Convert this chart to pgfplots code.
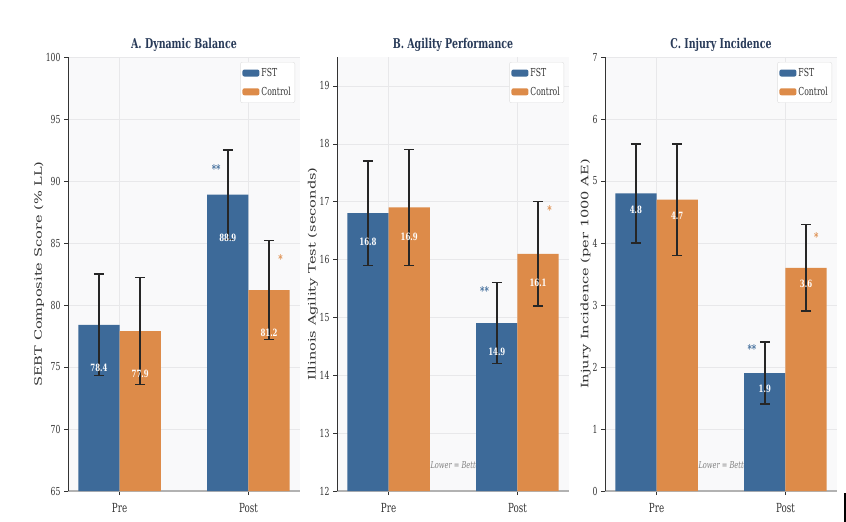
\documentclass[border=0pt]{standalone}
\usepackage{fontspec}
\setmainfont[FakeStretch=0.7]{DejaVu Serif}
\newfontfamily\vfont[FakeStretch=1.43]{DejaVu Serif}
\newfontfamily\arrowfont[FakeStretch=0.7]{DejaVu Sans}
\usepackage{pgfplots}
\pgfplotsset{compat=1.18}

\definecolor{fst}{RGB}{61,106,153}
\definecolor{ctl}{RGB}{221,139,73}
\definecolor{titlecol}{RGB}{40,58,88}
\definecolor{bgc}{RGB}{249,249,250}
\definecolor{gridc}{RGB}{232,232,234}
\definecolor{labc}{RGB}{51,51,51}

\tikzset{
  sig/.style={font=\bfseries\fontsize{12}{12}\selectfont, text=#1},
  note/.style={font=\fontsize{9.5}{11}\selectfont, text=gray},
}

\pgfplotsset{
  /pgf/number format/assume math mode=true,
  panel/.style={
    set layers,
    scale only axis, width=232pt, height=434pt,
    anchor=south west,
    xmin=-0.4, xmax=1.4,
    xtick={0,1}, xticklabels={Pre,Post},
    axis x line*=bottom, axis y line*=left,
    axis background/.style={fill=bgc},
    grid=major, major grid style={gridc, line width=0.6pt},
    tick align=outside, major tick length=4pt,
    tick style={labc, line width=0.6pt},
    x axis line style={gray!60, line width=1.8pt},
    y axis line style={labc, line width=0.8pt},
    xticklabel style={font=\fontsize{12.5}{14}\selectfont, text=labc, yshift=-5pt},
    yticklabel style={font=\fontsize{11}{13}\selectfont, text=labc},
    ylabel style={font=\vfont\fontsize{10.2}{12}\selectfont, text=labc},
    ylabel shift=-5pt,
    title style={font=\bfseries\fontsize{13.5}{16}\selectfont, text=titlecol,
      at={(0.5,1)}, anchor=center, yshift=6pt},
    legend style={at={(1,1)}, anchor=north east, xshift=-5pt, yshift=-5pt,
      draw=gray!25, fill=white, rounded corners=2pt,
      font=\fontsize{11}{12}\selectfont, text=labc,
      row sep=5pt, inner xsep=2pt, inner ysep=4pt},
    legend cell align=left,
  },
  bars/.style 2 args={
    ybar, bar width=0.32, bar shift=0pt, fill=#1, draw=none,
    legend image code/.code={\fill[#1] (0pt,-3.5pt) rectangle (17pt,3.5pt);},
    nodes near coords={\pgfmathprintnumber[fixed,fixed zerofill,precision=1]{\pgfplotspointmeta}},
    every node near coord/.append style={anchor=center, yshift=#2, text=white,
      font=\bfseries\fontsize{10}{12}\selectfont},
    error bars/y dir=both, error bars/y explicit,
    error bars/error bar style={line width=1.5pt, black!85},
    error bars/error mark options={rotate=90, mark size=5pt, line width=1.5pt, black!85},
  },
}

\newcommand{\lowernote}{{\arrowfont ↓}\ \textit{Lower = Better}}

\begin{document}
\begin{tikzpicture}

% A. Dynamic Balance
\begin{axis}[panel, at={(68pt,-491pt)},
  ymin=65, ymax=100, ytick={65,70,...,100},
  title={A. Dynamic Balance},
  ylabel={SEBT Composite Score (\% LL)}]
\addplot[bars={fst}{-43pt}] coordinates {(-0.16,78.4) +- (0,4.1) (0.84,88.9) +- (0,3.6)};
\addlegendentry{FST}
\addplot[bars={ctl}{-43pt}] coordinates {(0.16,77.9) +- (0,4.3) (1.16,81.2) +- (0,4.0)};
\addlegendentry{Control}
\node[sig=fst] at (axis cs:0.75,91.0) {**};
\node[sig=ctl] at (axis cs:1.25,83.7) {*};
\end{axis}

% B. Agility Performance
\begin{axis}[panel, at={(337pt,-491pt)},
  ymin=12, ymax=19.5, ytick={12,...,19},
  title={B. Agility Performance},
  ylabel={Illinois Agility Test (seconds)}]
\begin{pgfonlayer}{pre main}
\node[note] at (rel axis cs:0.5,0.06) {\lowernote};
\end{pgfonlayer}
\addplot[bars={fst}{-29pt}] coordinates {(-0.16,16.8) +- (0,0.9) (0.84,14.9) +- (0,0.7)};
\addlegendentry{FST}
\addplot[bars={ctl}{-29pt}] coordinates {(0.16,16.9) +- (0,1.0) (1.16,16.1) +- (0,0.9)};
\addlegendentry{Control}
\node[sig=fst] at (axis cs:0.745,15.45) {**};
\node[sig=ctl] at (axis cs:1.25,16.86) {*};
\end{axis}

% C. Injury Incidence
\begin{axis}[panel, at={(605pt,-491pt)},
  ymin=0, ymax=7, ytick={0,...,7},
  title={C. Injury Incidence},
  ylabel={Injury Incidence (per 1000 AE)}]
\begin{pgfonlayer}{pre main}
\node[note] at (rel axis cs:0.5,0.06) {\lowernote};
\end{pgfonlayer}
\addplot[bars={fst}{-16pt}] coordinates {(-0.16,4.8) +- (0,0.8) (0.84,1.9) +- (0,0.5)};
\addlegendentry{FST}
\addplot[bars={ctl}{-16pt}] coordinates {(0.16,4.7) +- (0,0.9) (1.16,3.6) +- (0,0.7)};
\addlegendentry{Control}
\node[sig=fst] at (axis cs:0.74,2.29) {**};
\node[sig=ctl] at (axis cs:1.24,4.1) {*};
\end{axis}

\fill[black] (843.5pt,-493pt) rectangle (846pt,-522pt);

% fixed page extent
\pgfresetboundingbox
\path[use as bounding box] (0pt,0pt) rectangle (846pt,-522pt);
\end{tikzpicture}
\end{document}
